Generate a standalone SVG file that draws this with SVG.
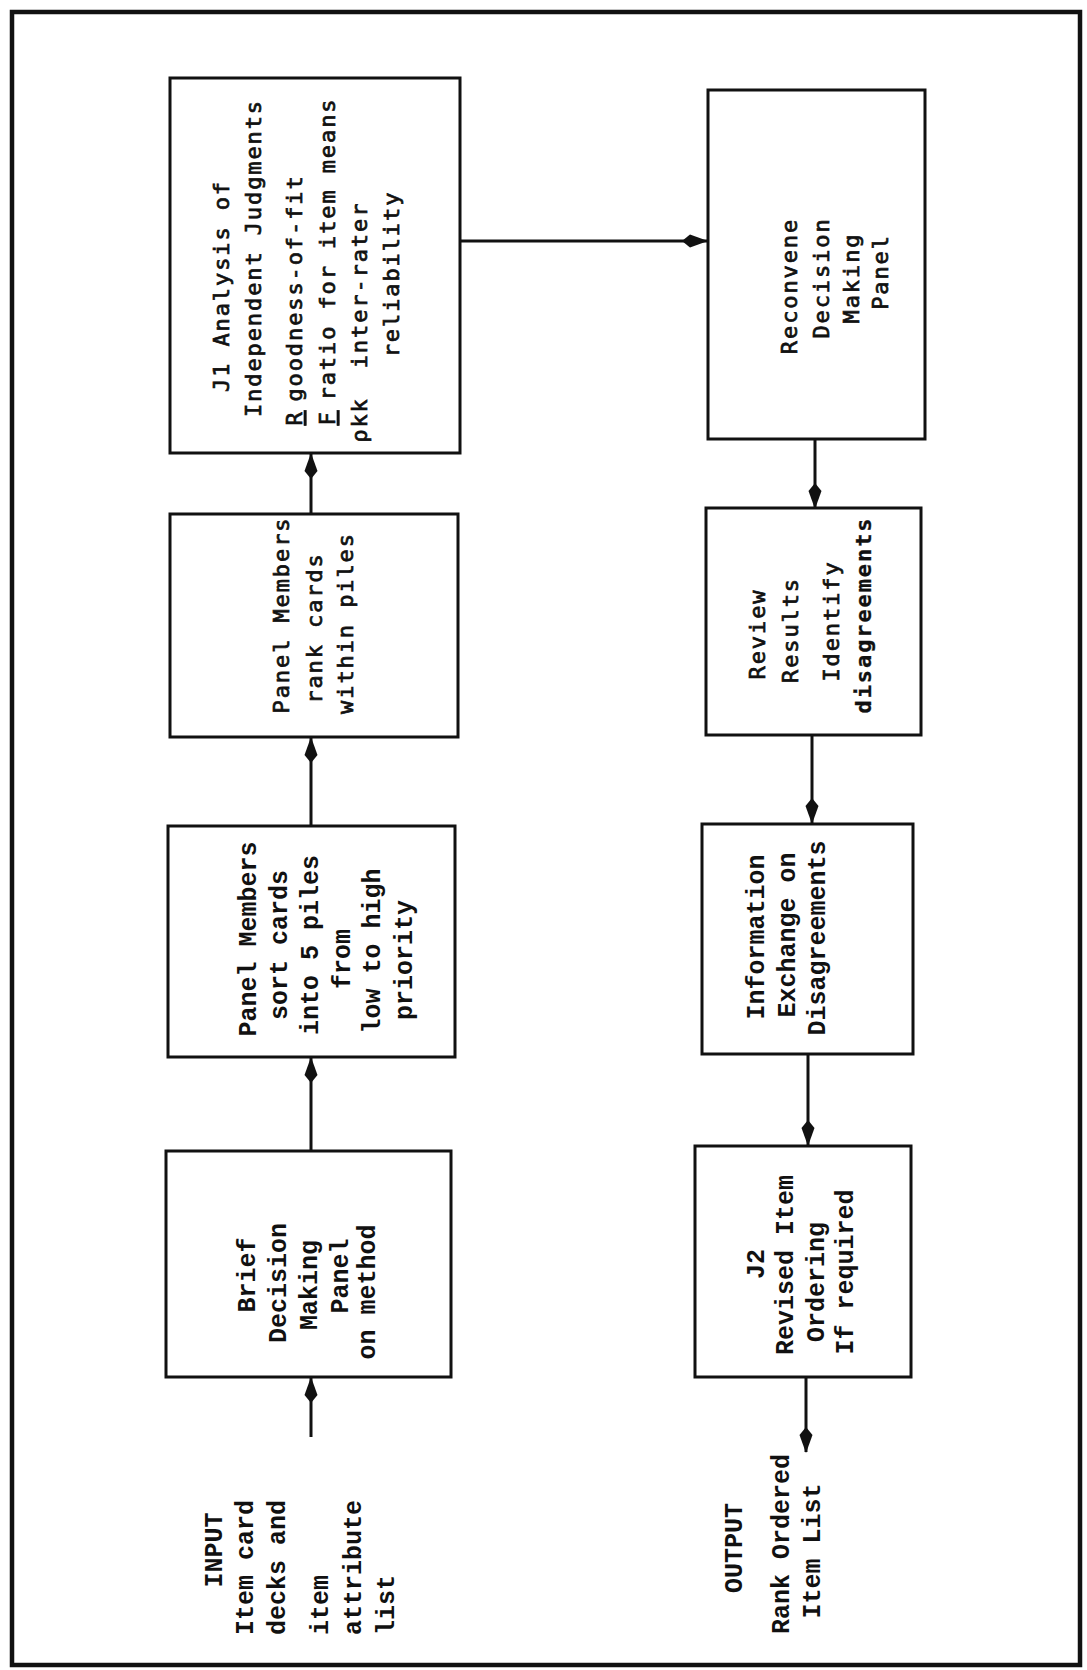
<svg xmlns="http://www.w3.org/2000/svg" width="1087" height="1670" viewBox="0 0 1087 1670">
<style>
  .bg { fill: #ffffff; }
  .frame { fill: none; stroke: #111; stroke-width: 4.5; }
  .box { fill: none; stroke: #111; stroke-width: 3; }
  .conn { fill: none; stroke: #111; stroke-width: 3; marker-end: url(#ah); }
  text { fill: #111; text-anchor: middle; }
  .s { font-family: "DejaVu Sans Mono", "Liberation Mono", monospace; font-size: 22px; letter-spacing: 1.9px; stroke: #111; stroke-width: 0.7px; }
  .c { font-family: "Liberation Mono", "Courier New", monospace; font-size: 25px; font-weight: bold; }
  .b { font-weight: bold; stroke-width: 0.3px; }
  .st { text-anchor: start; }
  .u { text-decoration: underline; }
</style>
<defs>
  <marker id="ah" viewBox="-27 -8 30 16" markerWidth="30" markerHeight="16" refX="0" refY="0" orient="auto" markerUnits="userSpaceOnUse">
    <path d="M1,0 L-17,-6.5 L-25,0 L-17,6.5 Z" fill="#111"/>
  </marker>
</defs>
<rect class="bg" x="0" y="0" width="1087" height="1670"/>
<rect class="frame" x="12" y="12" width="1068" height="1653"/>

<g id="connectors">
  <line class="conn" x1="311" y1="1437" x2="311" y2="1378"/>
  <line class="conn" x1="311" y1="1151" x2="311" y2="1058"/>
  <line class="conn" x1="311" y1="826" x2="311" y2="738"/>
  <line class="conn" x1="311" y1="514" x2="311" y2="454"/>
  <line class="conn" x1="460" y1="241" x2="707" y2="241"/>
  <line class="conn" x1="815" y1="439" x2="815" y2="508"/>
  <line class="conn" x1="812" y1="735" x2="812" y2="823"/>
  <line class="conn" x1="808" y1="1054" x2="808" y2="1145"/>
  <line class="conn" x1="806" y1="1377" x2="806" y2="1452"/>
</g>

<g id="input">
  <text class="c" transform="rotate(-90)" x="-1550" y="222">INPUT</text>
  <text class="c st" transform="rotate(-90)" x="-1635" y="253">Item card</text>
  <text class="c st" transform="rotate(-90)" x="-1635" y="285">decks and</text>
  <text class="c st" transform="rotate(-90)" x="-1635" y="328">item</text>
  <text class="c st" transform="rotate(-90)" x="-1635" y="361">attribute</text>
  <text class="c st" transform="rotate(-90)" x="-1635" y="394">list</text>
</g>

<g id="brief">
  <rect class="box" x="166" y="1151" width="285" height="226"/>
  <text class="c" transform="rotate(-90)" x="-1275" y="255">Brief</text>
  <text class="c" transform="rotate(-90)" x="-1283" y="286">Decision</text>
  <text class="c" transform="rotate(-90)" x="-1285" y="317">Making</text>
  <text class="c" transform="rotate(-90)" x="-1276" y="348">Panel</text>
  <text class="c" transform="rotate(-90)" x="-1292" y="375">on method</text>
</g>

<g id="sort">
  <rect class="box" x="168" y="826" width="287" height="231"/>
  <text class="c" transform="rotate(-90)" x="-939" y="256">Panel Members</text>
  <text class="c" transform="rotate(-90)" x="-945" y="287">sort cards</text>
  <text class="c" transform="rotate(-90)" x="-945" y="318">into 5 piles</text>
  <text class="c" transform="rotate(-90)" x="-959" y="350">from</text>
  <text class="c" transform="rotate(-90)" x="-951" y="380">low to high</text>
  <text class="c" transform="rotate(-90)" x="-960" y="412">priority</text>
</g>

<g id="rank">
  <rect class="box" x="170" y="514" width="288" height="223"/>
  <text class="s" transform="rotate(-90)" x="-615" y="289">Panel Members</text>
  <text class="s" transform="rotate(-90)" x="-628" y="322">rank cards</text>
  <text class="s" transform="rotate(-90)" x="-623" y="353">within piles</text>
</g>

<g id="j1">
  <rect class="box" x="170" y="78" width="290" height="375"/>
  <text class="s" transform="rotate(-90)" x="-286" y="229">J1 Analysis of</text>
  <text class="s" transform="rotate(-90)" x="-258" y="261">Independent Judgments</text>
  <text class="s" transform="rotate(-90)" x="-418" y="302"><tspan class="u">R</tspan></text>
  <text class="s" transform="rotate(-90)" x="-288" y="302">goodness-of-fit</text>
  <text class="s" transform="rotate(-90)" x="-418" y="335"><tspan class="u">F</tspan></text>
  <text class="s" transform="rotate(-90)" x="-249" y="335">ratio for item means</text>
  <text class="s" transform="rotate(-90)" x="-420" y="367">ρkk</text>
  <text class="s" transform="rotate(-90)" x="-285" y="367">inter-rater</text>
  <text class="s" transform="rotate(-90)" x="-274" y="399">reliability</text>
</g>

<g id="reconvene">
  <rect class="box" x="708" y="90" width="217" height="349"/>
  <text class="s" transform="rotate(-90)" x="-286" y="797">Reconvene</text>
  <text class="s" transform="rotate(-90)" x="-278" y="829">Decision</text>
  <text class="s" transform="rotate(-90)" x="-278" y="859">Making</text>
  <text class="s" transform="rotate(-90)" x="-272" y="888">Panel</text>
</g>

<g id="review">
  <rect class="box" x="706" y="508" width="215" height="227"/>
  <text class="s" transform="rotate(-90)" x="-634" y="765">Review</text>
  <text class="s" transform="rotate(-90)" x="-630" y="798">Results</text>
  <text class="s" transform="rotate(-90)" x="-621" y="839">Identify</text>
  <text class="s b" transform="rotate(-90)" x="-615" y="871">disagreements</text>
</g>

<g id="info">
  <rect class="box" x="702" y="824" width="211" height="230"/>
  <text class="c" transform="rotate(-90)" x="-937" y="764">Information</text>
  <text class="c" transform="rotate(-90)" x="-935" y="795">Exchange on</text>
  <text class="c" transform="rotate(-90)" x="-938" y="825">Disagreements</text>
</g>

<g id="j2">
  <rect class="box" x="695" y="1146" width="216" height="231"/>
  <text class="c" transform="rotate(-90)" x="-1264" y="764">J2</text>
  <text class="c" transform="rotate(-90)" x="-1265" y="793">Revised Item</text>
  <text class="c" transform="rotate(-90)" x="-1282" y="824">Ordering</text>
  <text class="c" transform="rotate(-90)" x="-1272" y="853">If required</text>
</g>

<g id="output">
  <text class="c" transform="rotate(-90)" x="-1548" y="742">OUTPUT</text>
  <text class="c" transform="rotate(-90)" x="-1544" y="789">Rank Ordered</text>
  <text class="c" transform="rotate(-90)" x="-1551" y="820">Item List</text>
</g>
</svg>
